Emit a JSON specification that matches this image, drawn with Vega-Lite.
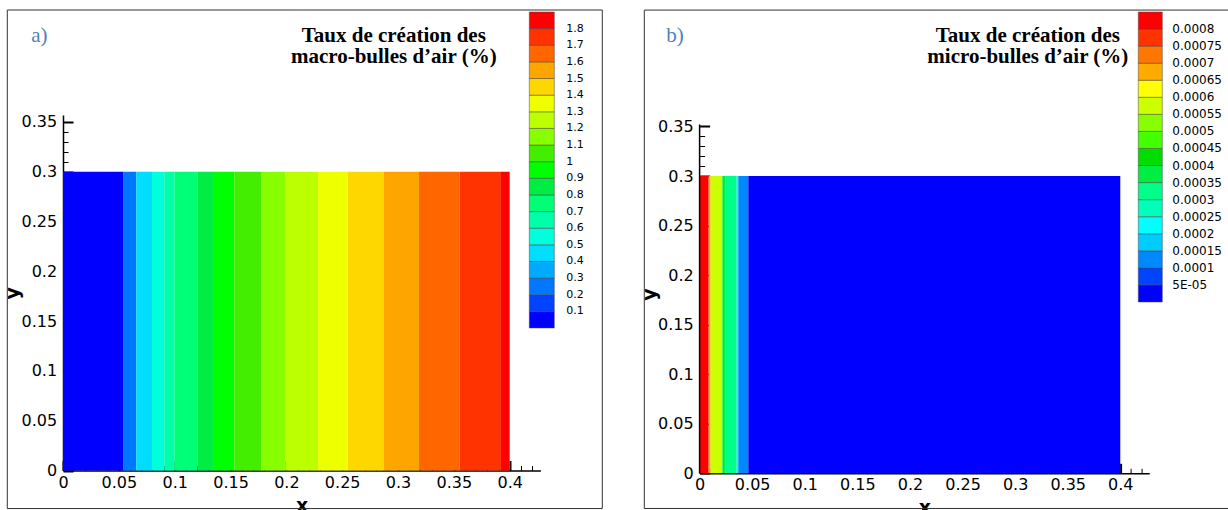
{
  "$schema": "https://vega.github.io/schema/vega-lite/v6.json",
  "background": "white",
  "padding": 0,
  "bounds": "flush",
  "spacing": 158.6,
  "resolve": {"scale": {"color": "independent"}, "legend": {"color": "independent"}},
  "config": {
    "view": {"stroke": null},
    "axis": {"grid": false, "labelFlush": false, "labelOverlap": false}
  },
  "hconcat": [
    {
      "width": 477.4,
      "height": 355.5,
      "resolve": {"axis": {"x": "independent", "y": "independent"}},
      "layer": [
        {
          "data": {"values": [{}]},
          "mark": {"type": "rect", "opacity": 0, "clip": false},
          "encoding": {
            "x": {"datum": -0.05615, "type": "quantitative", "scale": {"domain": [0, 0.4275], "nice": false, "zero": false}, "axis": null},
            "x2": {"datum": -0.053},
            "y": {"datum": 0.47, "type": "quantitative", "scale": {"domain": [0, 0.357], "nice": false, "zero": false}, "axis": null},
            "y2": {"datum": 0.47248}
          }
        },
        {
          "data": {"values": [{}]},
          "mark": {"type": "rect", "filled": false, "stroke": "#333333", "strokeWidth": 1, "clip": false},
          "encoding": {
            "x": {"datum": -0.04988, "type": "quantitative", "scale": {"domain": [0, 0.4275], "nice": false, "zero": false},
              "axis": {"orient": "bottom", "values": [0.01,0.02,0.03,0.04,0.06,0.07,0.08,0.09,0.11,0.12,0.13,0.14,0.16,0.17,0.18,0.19,0.21,0.22,0.23,0.24,0.26,0.27,0.28,0.29,0.31,0.32,0.33,0.34,0.36,0.37,0.38,0.39,0.41,0.42], "tickSize": -5, "tickWidth": 1, "tickColor": "black", "labels": false, "domain": false, "title": null}},
            "x2": {"datum": 0.48294},
            "y": {"datum": -0.0382, "type": "quantitative", "scale": {"domain": [0, 0.357], "nice": false, "zero": false},
              "axis": {"orient": "left", "values": [0.01,0.02,0.03,0.04,0.06,0.07,0.08,0.09,0.11,0.12,0.13,0.14,0.16,0.17,0.18,0.19,0.21,0.22,0.23,0.24,0.26,0.27,0.28,0.29,0.31,0.32,0.33,0.34], "tickSize": -5, "tickWidth": 1, "tickColor": "black", "labels": false, "domain": false, "title": null}},
            "y2": {"datum": 0.46244}
          }
        },
        {
          "data": {"values": [
            {"x0": 0, "x1": 0.0543, "rate": 0.05},
            {"x0": 0.0543, "x1": 0.0656, "rate": 0.25},
            {"x0": 0.0656, "x1": 0.0797, "rate": 0.45},
            {"x0": 0.0797, "x1": 0.0907, "rate": 0.55},
            {"x0": 0.0907, "x1": 0.0997, "rate": 0.65},
            {"x0": 0.0997, "x1": 0.1203, "rate": 0.75},
            {"x0": 0.1203, "x1": 0.1343, "rate": 0.85},
            {"x0": 0.1343, "x1": 0.1534, "rate": 0.95},
            {"x0": 0.1534, "x1": 0.1773, "rate": 1.05},
            {"x0": 0.1773, "x1": 0.1991, "rate": 1.15},
            {"x0": 0.1991, "x1": 0.2284, "rate": 1.25},
            {"x0": 0.2284, "x1": 0.2549, "rate": 1.35},
            {"x0": 0.2549, "x1": 0.2871, "rate": 1.45},
            {"x0": 0.2871, "x1": 0.3188, "rate": 1.55},
            {"x0": 0.3188, "x1": 0.3552, "rate": 1.65},
            {"x0": 0.3552, "x1": 0.3922, "rate": 1.75},
            {"x0": 0.3922, "x1": 0.4, "rate": 1.85}
          ]},
          "mark": {"type": "rect"},
          "encoding": {
            "x": {"field": "x0", "type": "quantitative", "scale": {"domain": [0, 0.4275], "nice": false, "zero": false},
              "axis": {"orient": "bottom", "values": [0,0.05,0.1,0.15,0.2,0.25,0.3,0.35,0.4], "format": "~g", "tickSize": -10, "tickWidth": 2, "tickColor": "black", "domainColor": "black", "domainWidth": 1.5, "labelFont": "DejaVu Sans", "labelFontSize": 16, "labelColor": "black", "labelPadding": 13.5, "title": "x", "titleFont": "DejaVu Sans", "titleFontSize": 19, "titleFontWeight": "bold", "titleColor": "black", "titlePadding": 6}},
            "x2": {"field": "x1"},
            "y": {"datum": 0, "type": "quantitative", "scale": {"domain": [0, 0.357], "nice": false, "zero": false},
              "axis": {"orient": "left", "values": [0,0.05,0.1,0.15,0.2,0.25,0.3,0.35], "format": "~g", "tickSize": -10, "tickWidth": 2, "tickColor": "black", "domainColor": "black", "domainWidth": 1.5, "labelFont": "DejaVu Sans", "labelFontSize": 16, "labelColor": "black", "labelPadding": 16.4, "title": "y", "titleFont": "DejaVu Sans", "titleFontSize": 19, "titleFontWeight": "bold", "titleColor": "black", "titlePadding": -2}},
            "y2": {"datum": 0.3},
            "color": {"field": "rate", "type": "quantitative",
              "scale": {"type": "threshold", "domain": [0.1,0.2,0.3,0.4,0.5,0.6,0.7,0.8,0.9,1,1.1,1.2,1.3,1.4,1.5,1.6,1.7,1.8],
                "range": ["#0000ff","#0044ff","#0077ff","#00aaff","#00ddff","#00ffdd","#00ffaa","#00ff77","#00ee44","#00ff00","#44ee00","#88ff00","#bbff00","#eeff00","#ffd700","#ffa500","#ff6600","#ff3300","#ff0000"]},
              "legend": {"type": "gradient", "orient": "none", "legendX": 466.3, "legendY": -103, "direction": "vertical", "gradientLength": 316, "gradientThickness": 25, "gradientStrokeColor": "#444444", "gradientStrokeWidth": 0.5, "labelFont": "DejaVu Sans", "labelFontSize": 11, "labelColor": "black", "labelOffset": 12, "labelOverlap": false, "labelExpr": "isFinite(datum.value) ? format(datum.value, '~g') : ''", "title": null}}
          }
        },
        {
          "data": {"values": [{}]},
          "mark": {"type": "text", "text": "a)", "font": "Liberation Serif", "fontSize": 21, "color": "#4f81bd", "align": "left", "baseline": "alphabetic", "clip": false},
          "encoding": {
            "x": {"datum": -0.0284, "type": "quantitative", "axis": null},
            "y": {"datum": 0.4303, "type": "quantitative", "axis": null}
          }
        },
        {
          "data": {"values": [{}]},
          "mark": {"type": "text", "text": ["Taux de création des", "macro-bulles d’air (%)"], "font": "Liberation Serif", "fontSize": 21, "fontWeight": "bold", "color": "black", "align": "center", "baseline": "alphabetic", "lineHeight": 21, "clip": false},
          "encoding": {
            "x": {"datum": 0.2962, "type": "quantitative", "axis": null},
            "y": {"datum": 0.4303, "type": "quantitative", "axis": null}
          }
        }
      ]
    },
    {
      "width": 449.6,
      "height": 358.3,
      "resolve": {"axis": {"x": "independent", "y": "independent"}},
      "layer": [
        {
          "data": {"values": [{}]},
          "mark": {"type": "rect", "filled": false, "stroke": "#333333", "strokeWidth": 1, "clip": false},
          "encoding": {
            "x": {"datum": -0.05258, "type": "quantitative", "scale": {"domain": [0, 0.4275], "nice": false, "zero": false},
              "axis": {"orient": "bottom", "values": [0.01,0.02,0.03,0.04,0.06,0.07,0.08,0.09,0.11,0.12,0.13,0.14,0.16,0.17,0.18,0.19,0.21,0.22,0.23,0.24,0.26,0.27,0.28,0.29,0.31,0.32,0.33,0.34,0.36,0.37,0.38,0.39,0.41,0.42], "tickSize": -5, "tickWidth": 1, "tickColor": "black", "labels": false, "domain": false, "title": null}},
            "x2": {"datum": 0.515},
            "y": {"datum": -0.0355, "type": "quantitative", "scale": {"domain": [0, 0.3616], "nice": false, "zero": false},
              "axis": {"orient": "left", "values": [0.01,0.02,0.03,0.04,0.06,0.07,0.08,0.09,0.11,0.12,0.13,0.14,0.16,0.17,0.18,0.19,0.21,0.22,0.23,0.24,0.26,0.27,0.28,0.29,0.31,0.32,0.33,0.34], "tickSize": -5, "tickWidth": 1, "tickColor": "black", "labels": false, "domain": false, "title": null}},
            "y2": {"datum": 0.4675}
          }
        },
        {
          "data": {"values": [
            {"x0": 0, "x1": 0.0086, "rate": 0.00085},
            {"x0": 0.0086, "x1": 0.0105, "rate": 0.00067},
            {"x0": 0.0105, "x1": 0.0216, "rate": 0.00057},
            {"x0": 0.0216, "x1": 0.0247, "rate": 0.00037},
            {"x0": 0.0247, "x1": 0.0352, "rate": 0.00032},
            {"x0": 0.0352, "x1": 0.0368, "rate": 0.00022},
            {"x0": 0.0368, "x1": 0.0463, "rate": 0.00012},
            {"x0": 0.0463, "x1": 0.4, "rate": 0.00002}
          ]},
          "mark": {"type": "rect"},
          "encoding": {
            "x": {"field": "x0", "type": "quantitative", "scale": {"domain": [0, 0.4275], "nice": false, "zero": false},
              "axis": {"orient": "bottom", "values": [0,0.05,0.1,0.15,0.2,0.25,0.3,0.35,0.4], "format": "~g", "tickSize": -10, "tickWidth": 2, "tickColor": "black", "domainColor": "black", "domainWidth": 1.5, "labelFont": "DejaVu Sans", "labelFontSize": 16, "labelColor": "black", "labelPadding": 13.5, "title": "x", "titleFont": "DejaVu Sans", "titleFontSize": 19, "titleFontWeight": "bold", "titleColor": "black", "titlePadding": 6}},
            "x2": {"field": "x1"},
            "y": {"datum": 0, "type": "quantitative", "scale": {"domain": [0, 0.3616], "nice": false, "zero": false},
              "axis": {"orient": "left", "values": [0,0.05,0.1,0.15,0.2,0.25,0.3,0.35], "format": "~g", "tickSize": -10, "tickWidth": 2, "tickColor": "black", "domain": false, "labelFont": "DejaVu Sans", "labelFontSize": 16, "labelColor": "black", "labelPadding": 16.4, "title": "y", "titleFont": "DejaVu Sans", "titleFontSize": 19, "titleFontWeight": "bold", "titleColor": "black", "titlePadding": -2}},
            "y2": {"datum": 0.3},
            "color": {"field": "rate", "type": "quantitative",
              "scale": {"type": "threshold", "domain": [0.00005,0.0001,0.00015,0.0002,0.00025,0.0003,0.00035,0.0004,0.00045,0.0005,0.00055,0.0006,0.00065,0.0007,0.00075,0.0008],
                "range": ["#0000ff","#0044ff","#0088ff","#00ccff","#00ffff","#00ffbb","#00ff88","#00ee44","#00dd00","#44ff00","#88ff00","#ccff00","#ffff00","#ffaa00","#ff7700","#ff3300","#ff0000"]},
              "legend": {"type": "gradient", "orient": "none", "legendX": 438.7, "legendY": -103, "direction": "vertical", "gradientLength": 290, "gradientThickness": 24, "gradientStrokeColor": "#444444", "gradientStrokeWidth": 0.5, "labelFont": "DejaVu Sans", "labelFontSize": 12, "labelColor": "black", "labelOffset": 10, "labelOverlap": false, "labelExpr": "!isFinite(datum.value) ? '' : datum.value < 0.00007 ? '5E-05' : format(datum.value, '~g')", "title": null}}
          }
        },
        {
          "data": {"values": [{}]},
          "mark": {"type": "rule", "color": "black", "strokeWidth": 1.5},
          "encoding": {
            "x": {"datum": 0, "type": "quantitative", "axis": null},
            "y": {"datum": 0, "type": "quantitative", "axis": null},
            "y2": {"datum": 0.352}
          }
        },
        {
          "data": {"values": [{}]},
          "mark": {"type": "text", "text": "b)", "font": "Liberation Serif", "fontSize": 21, "color": "#4f81bd", "align": "left", "baseline": "alphabetic", "clip": false},
          "encoding": {
            "x": {"datum": -0.0317, "type": "quantitative", "axis": null},
            "y": {"datum": 0.4352, "type": "quantitative", "axis": null}
          }
        },
        {
          "data": {"values": [{}]},
          "mark": {"type": "text", "text": ["Taux de création des", "micro-bulles d’air (%)"], "font": "Liberation Serif", "fontSize": 21, "fontWeight": "bold", "color": "black", "align": "center", "baseline": "alphabetic", "lineHeight": 21, "clip": false},
          "encoding": {
            "x": {"datum": 0.3121, "type": "quantitative", "axis": null},
            "y": {"datum": 0.4352, "type": "quantitative", "axis": null}
          }
        }
      ]
    }
  ]
}
